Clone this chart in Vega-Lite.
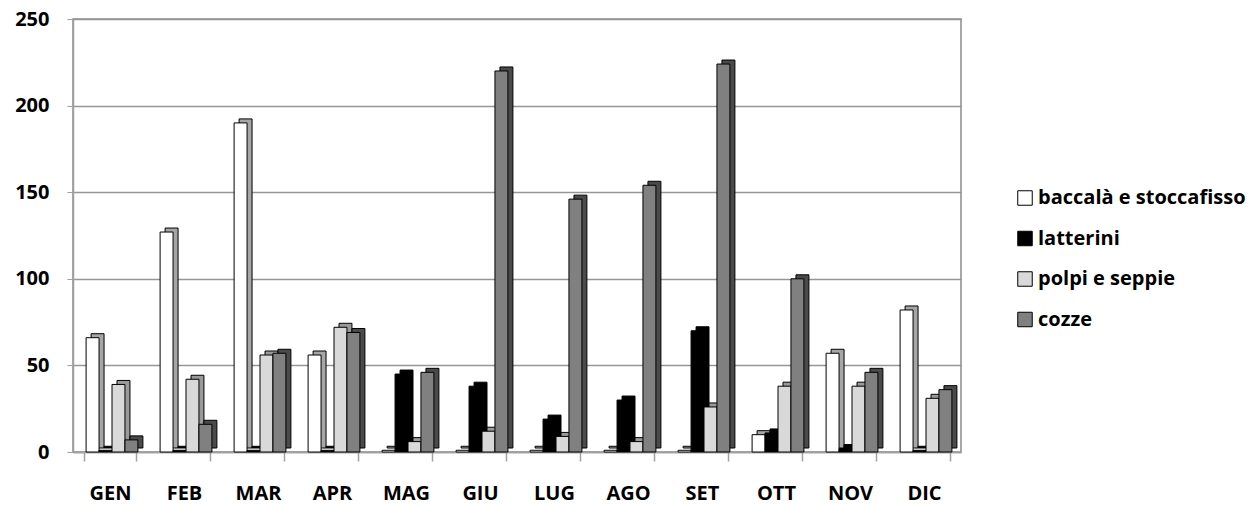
{
  "$schema": "https://vega.github.io/schema/vega-lite/v6.json",
  "autosize": {"type": "none"},
  "padding": {"left": 73, "top": 19, "right": 290, "bottom": 53},
  "width": 888,
  "height": 433,
  "background": "white",
  "config": {
    "font": "Open Sans",
    "view": {"stroke": "#8a8a8a", "strokeWidth": 1.5}
  },
  "data": {
    "values": [
      {"mese": "GEN", "serie": "baccalà e stoccafisso", "valore": 66},
      {"mese": "GEN", "serie": "latterini", "valore": 1},
      {"mese": "GEN", "serie": "polpi e seppie", "valore": 39},
      {"mese": "GEN", "serie": "cozze", "valore": 7},
      {"mese": "FEB", "serie": "baccalà e stoccafisso", "valore": 127},
      {"mese": "FEB", "serie": "latterini", "valore": 1},
      {"mese": "FEB", "serie": "polpi e seppie", "valore": 42},
      {"mese": "FEB", "serie": "cozze", "valore": 16},
      {"mese": "MAR", "serie": "baccalà e stoccafisso", "valore": 190},
      {"mese": "MAR", "serie": "latterini", "valore": 1},
      {"mese": "MAR", "serie": "polpi e seppie", "valore": 56},
      {"mese": "MAR", "serie": "cozze", "valore": 57},
      {"mese": "APR", "serie": "baccalà e stoccafisso", "valore": 56},
      {"mese": "APR", "serie": "latterini", "valore": 1},
      {"mese": "APR", "serie": "polpi e seppie", "valore": 72},
      {"mese": "APR", "serie": "cozze", "valore": 69},
      {"mese": "MAG", "serie": "baccalà e stoccafisso", "valore": 1},
      {"mese": "MAG", "serie": "latterini", "valore": 45},
      {"mese": "MAG", "serie": "polpi e seppie", "valore": 6},
      {"mese": "MAG", "serie": "cozze", "valore": 46},
      {"mese": "GIU", "serie": "baccalà e stoccafisso", "valore": 1},
      {"mese": "GIU", "serie": "latterini", "valore": 38},
      {"mese": "GIU", "serie": "polpi e seppie", "valore": 12},
      {"mese": "GIU", "serie": "cozze", "valore": 220},
      {"mese": "LUG", "serie": "baccalà e stoccafisso", "valore": 1},
      {"mese": "LUG", "serie": "latterini", "valore": 19},
      {"mese": "LUG", "serie": "polpi e seppie", "valore": 9},
      {"mese": "LUG", "serie": "cozze", "valore": 146},
      {"mese": "AGO", "serie": "baccalà e stoccafisso", "valore": 1},
      {"mese": "AGO", "serie": "latterini", "valore": 30},
      {"mese": "AGO", "serie": "polpi e seppie", "valore": 6},
      {"mese": "AGO", "serie": "cozze", "valore": 154},
      {"mese": "SET", "serie": "baccalà e stoccafisso", "valore": 1},
      {"mese": "SET", "serie": "latterini", "valore": 70},
      {"mese": "SET", "serie": "polpi e seppie", "valore": 26},
      {"mese": "SET", "serie": "cozze", "valore": 224},
      {"mese": "OTT", "serie": "baccalà e stoccafisso", "valore": 10},
      {"mese": "OTT", "serie": "latterini", "valore": 11},
      {"mese": "OTT", "serie": "polpi e seppie", "valore": 38},
      {"mese": "OTT", "serie": "cozze", "valore": 100},
      {"mese": "NOV", "serie": "baccalà e stoccafisso", "valore": 57},
      {"mese": "NOV", "serie": "latterini", "valore": 2},
      {"mese": "NOV", "serie": "polpi e seppie", "valore": 38},
      {"mese": "NOV", "serie": "cozze", "valore": 46},
      {"mese": "DIC", "serie": "baccalà e stoccafisso", "valore": 82},
      {"mese": "DIC", "serie": "latterini", "valore": 1},
      {"mese": "DIC", "serie": "polpi e seppie", "valore": 31},
      {"mese": "DIC", "serie": "cozze", "valore": 36}
    ]
  },
  "encoding": {
    "x": {
      "field": "mese",
      "type": "nominal",
      "sort": ["GEN", "FEB", "MAR", "APR", "MAG", "GIU", "LUG", "AGO", "SET", "OTT", "NOV", "DIC"],
      "scale": {"paddingInner": 0.3, "paddingOuter": 0.15},
      "axis": {
        "title": null,
        "labelAngle": 0,
        "labelFont": "Open Sans",
        "labelFontSize": 20,
        "labelFontWeight": "bold",
        "labelColor": "#000000",
        "labelPadding": 22,
        "tickBand": "extent",
        "tickSize": 9,
        "tickColor": "#a0a0a0",
        "tickWidth": 1.5,
        "domainColor": "#a0a0a0",
        "domainWidth": 1.5
      }
    },
    "y": {
      "field": "valore",
      "type": "quantitative",
      "scale": {"domain": [0, 250], "nice": false},
      "axis": {
        "title": null,
        "values": [0, 50, 100, 150, 200, 250],
        "labelFont": "Open Sans",
        "labelFontSize": 20,
        "labelFontWeight": "bold",
        "labelColor": "#000000",
        "labelPadding": 18,
        "tickSize": 6,
        "tickColor": "#a0a0a0",
        "domainColor": "#a0a0a0",
        "domainWidth": 1.5,
        "grid": true,
        "gridColor": "#969696",
        "gridWidth": 1.5
      }
    }
  },
  "layer": [
    {
      "mark": {"type": "bar", "yOffset": -4, "stroke": "#000000", "strokeWidth": 1},
      "encoding": {
        "xOffset": {
          "field": "serie",
          "type": "nominal",
          "sort": ["baccalà e stoccafisso", "latterini", "polpi e seppie", "cozze"],
          "scale": {"paddingInner": 0, "paddingOuter": 0, "range": [7, 58.8]}
        },
        "fill": {
          "field": "serie",
          "type": "nominal",
          "scale": {
            "domain": ["baccalà e stoccafisso", "latterini", "polpi e seppie", "cozze"],
            "range": ["#a6a6a6", "#000000", "#9a9a9a", "#4a4a4a"]
          },
          "legend": null
        }
      }
    },
    {
      "mark": {"type": "bar", "stroke": "#000000", "strokeWidth": 1},
      "encoding": {
        "xOffset": {
          "field": "serie",
          "type": "nominal",
          "sort": ["baccalà e stoccafisso", "latterini", "polpi e seppie", "cozze"],
          "scale": {"paddingInner": 0, "paddingOuter": 0, "range": [2, 53.8]}
        },
        "color": {
          "field": "serie",
          "type": "nominal",
          "scale": {
            "domain": ["baccalà e stoccafisso", "latterini", "polpi e seppie", "cozze"],
            "range": ["#ffffff", "#000000", "#d9d9d9", "#808080"]
          },
          "legend": {
            "title": null,
            "orient": "none",
            "legendX": 942,
            "legendY": 169,
            "symbolType": "square",
            "symbolSize": 210,
            "symbolStrokeColor": "#000000",
            "symbolStrokeWidth": 1,
            "labelFont": "Open Sans",
            "labelFontSize": 20,
            "labelFontWeight": "bold",
            "labelColor": "#000000",
            "labelOffset": 3,
            "rowPadding": 20.5,
            "labelLimit": 400
          }
        }
      }
    }
  ],
  "resolve": {"scale": {"fill": "independent", "color": "independent", "xOffset": "independent"}}
}
